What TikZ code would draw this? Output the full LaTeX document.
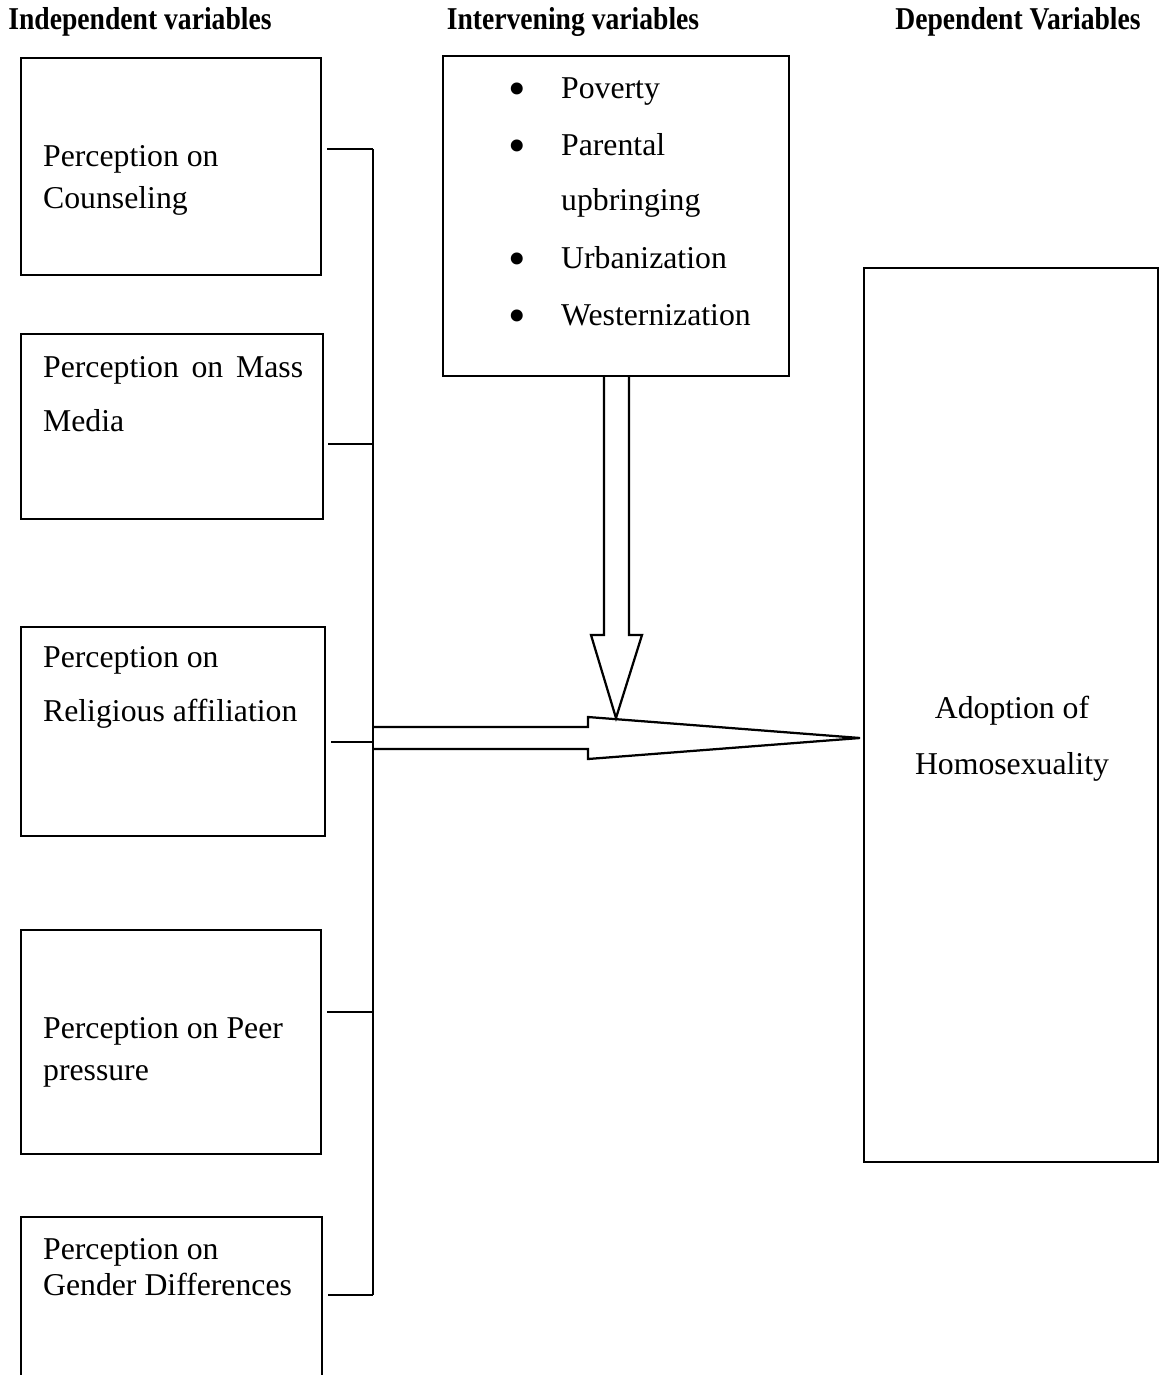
\documentclass[tikz,border=0pt]{standalone}
\usepackage{fontspec}
\setmainfont{Liberation Serif}
\newfontfamily\headfont[FakeStretch=0.87]{Liberation Serif}

\begin{document}
\begin{tikzpicture}[x=0.4pt, y=-0.4pt, line width=0.9pt,
  box/.style={draw, inner sep=0pt},
  txt/.style={anchor=west, align=left, inner sep=0pt, font=\fontsize{12.7}{16.8}\selectfont},
  bul/.style={anchor=base, inner sep=0pt, font=\fontsize{20}{20}\selectfont},
  head/.style={inner sep=0pt, font=\headfont\bfseries\fontsize{12.7}{15}\selectfont}]

  \newcommand\U{0.4pt}
  \clip (0,0) rectangle (1169,1375);

  %% headings
  \node[head] (hind) at (140,22) {Independent variables};
  \node[head] (hint) at (573,22) {Intervening variables};
  \node[head] (hdep) at (1018,22) {Dependent Variables};

  %% independent variables
  \node[box, minimum width=300*\U, minimum height=217*\U] (counsel) at (171,166.5) {};
  \node[box, minimum width=302*\U, minimum height=185*\U] (media)   at (172,426.5) {};
  \node[box, minimum width=304*\U, minimum height=209*\U] (relig)   at (173,731.5) {};
  \node[box, minimum width=300*\U, minimum height=224*\U] (peer)    at (171,1042) {};
  \node[box, minimum width=301*\U, minimum height=183*\U] (gender)  at (171.5,1308.5) {};

  \node[txt] (tcounsel) at (42,180) {Perception on\\Counseling};
  \node[txt, text width=104pt] (tmedia) at (42,394) {Perception\hfill on\hfill Mass\\[4.8pt]Media};
  \node[txt] (trelig) at (42,687) {Perception on\\[4.8pt]Religious affiliation};
  \node[txt] (tpeer) at (42,1052) {Perception on Peer\\pressure};
  \node[txt] (tgender) at (42,1267) {Perception on\\[-2.4pt]Gender Differences};

  %% intervening variables
  \node[box, minimum width=346*\U, minimum height=320*\U] (interv) at (616,216) {};
  \foreach \y/\name in {98/Poverty, 155/Parental, 210/upbringing, 268/Urbanization, 325/Westernization}
    \node[txt, anchor=base west] (t\name) at (560,\y) {\name};
  \foreach \name in {Poverty, Parental, Urbanization, Westernization}
    \node[bul] (dot\name) at ([yshift=-3pt]517,0 |- t\name.base) {\textbullet};

  %% dependent variable
  \node[box, minimum width=294*\U, minimum height=894*\U] (adopt) at (1011,715) {};
  \node[txt, anchor=center, align=center] (tadopt) at (1012,739) {Adoption of\\[5.6pt]Homosexuality};

  %% bus line
  \coordinate (b1) at (373,149);
  \coordinate (b2) at (373,444);
  \coordinate (b3) at (373,742);
  \coordinate (b4) at (373,1012);
  \coordinate (b5) at (373,1295);
  \draw (b1) -- (b5);
  \draw ([xshift=5*\U]counsel.east |- b1) -- (b1);
  \draw ([xshift=4*\U]media.east |- b2) -- (b2);
  \draw ([xshift=5*\U]relig.east |- b3) -- (b3);
  \draw ([xshift=5*\U]peer.east |- b4) -- (b4);
  \draw ([xshift=5*\U]gender.east |- b5) -- (b5);

  %% block arrow down
  \draw[line join=miter] (604,376) -- (604,635) -- (591,635) -- (616,718) -- (642,635) -- (629,635) -- (629,376);
  %% block arrow right
  \draw[line join=miter] (373,727) -- (588,727) -- (588,717) -- (860,738) -- (588,759) -- (588,749) -- (373,749);

\end{tikzpicture}
\end{document}
